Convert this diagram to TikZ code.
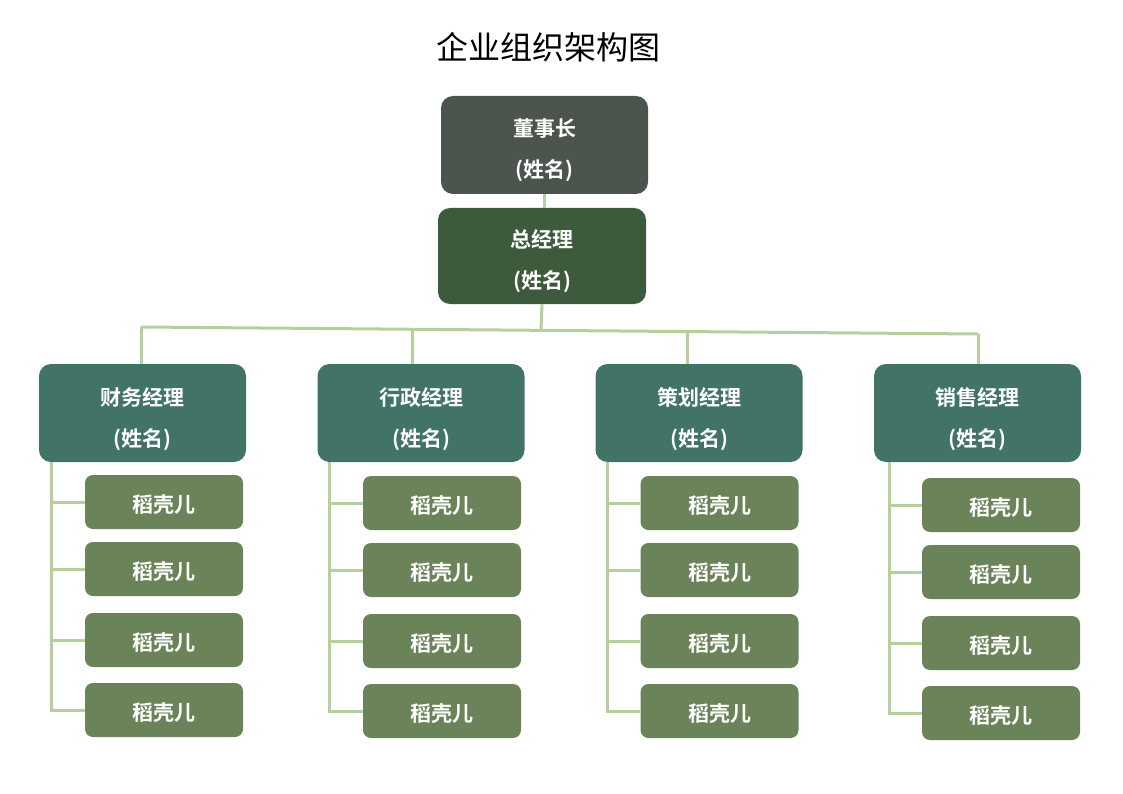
\documentclass[tikz,border=0pt]{standalone}
\usepackage{fontspec}
\setmainfont{Noto Sans CJK SC}
\newfontfamily\cjkb{Noto Sans CJK SC Bold}
\begin{document}
\begin{tikzpicture}[x=1pt,y=-1pt,
  box/.style={rectangle,rounded corners=12pt,inner sep=0pt},
  bigbox/.style={box,minimum width=207pt,minimum height=98pt},
  subbox/.style={box,rounded corners=8pt,minimum width=158pt,minimum height=54pt,fill=subc},
  txt/.style={inner sep=0pt,text=white,align=center,font=\cjkb\fontsize{21}{41}\selectfont},
  link/.style={draw=linec,line width=3pt}]
\definecolor{topc}{HTML}{4B554D}
\definecolor{gmc}{HTML}{3E5A3C}
\definecolor{mgrc}{HTML}{417366}
\definecolor{subc}{HTML}{6B8358}
\definecolor{linec}{HTML}{B5D09A}
\useasboundingbox[fill=white] (0,0) rectangle (1123,794);
% connectors first (behind boxes)
\coordinate (busL) at (141,327);
\coordinate (busR) at (978,334);
\coordinate (busG) at (541,330.3);
\coordinate (bus2) at (412,329.3);
\coordinate (bus3) at (687,331.6);
\node[font=\fontsize{32}{36}\selectfont] (title) at (548,47) {企业组织架构图};
\node[bigbox,fill=topc] (top) at (544.5,145) {};
\node[bigbox,fill=gmc,minimum width=208pt,minimum height=96pt] (gm) at (542,256) {};
\node[bigbox,fill=mgrc] (m1) at (142.5,413) {};
\node[bigbox,fill=mgrc] (m2) at (421,413) {};
\node[bigbox,fill=mgrc] (m3) at (699,413) {};
\node[bigbox,fill=mgrc] (m4) at (977.5,413) {};
\node[txt] (ttop) at ([yshift=-5pt]top) {董事长\\(姓名)};
\node[txt] (tgm) at ([yshift=-5pt]gm) {总经理\\(姓名)};
\node[txt] (tm1) at ([yshift=-6pt]m1) {财务经理\\(姓名)};
\node[txt] (tm2) at ([yshift=-6pt]m2) {行政经理\\(姓名)};
\node[txt] (tm3) at ([yshift=-6pt]m3) {策划经理\\(姓名)};
\node[txt] (tm4) at ([yshift=-6pt]m4) {销售经理\\(姓名)};
\foreach \c/\x/\yo in {1/164/0,2/442/1,3/719.5/1,4/1001/3}{
  \foreach \r/\y in {1/502,2/569,3/640,4/710}{
    \node[subbox] (s\c\r) at (\x,\y+\yo) {};
    \node[txt] (ts\c\r) at ([yshift=-3pt]s\c\r) {稻壳儿};
  }
}
\draw[link] (top.south) -- (top.south |- gm.north);
\draw[link] (gm.south) -- (busG);
\draw[link] (busL) -- (busR);
\draw[link] (busL) -- (busL |- m1.north);
\draw[link] (bus2) -- (bus2 |- m2.north);
\draw[link] (bus3) -- (bus3 |- m3.north);
\draw[link] (busR) -- (busR |- m4.north);
\foreach \c/\sx in {1/51,2/329,3/607,4/889}{
  \coordinate (sp\c) at (\sx,462);
  \draw[link] (sp\c) -- (sp\c |- s\c4.west) -- (s\c4.west);
  \foreach \r in {1,2,3}{
    \draw[link] (sp\c |- s\c\r.west) -- (s\c\r.west);
  }
}
\end{tikzpicture}
\end{document}
